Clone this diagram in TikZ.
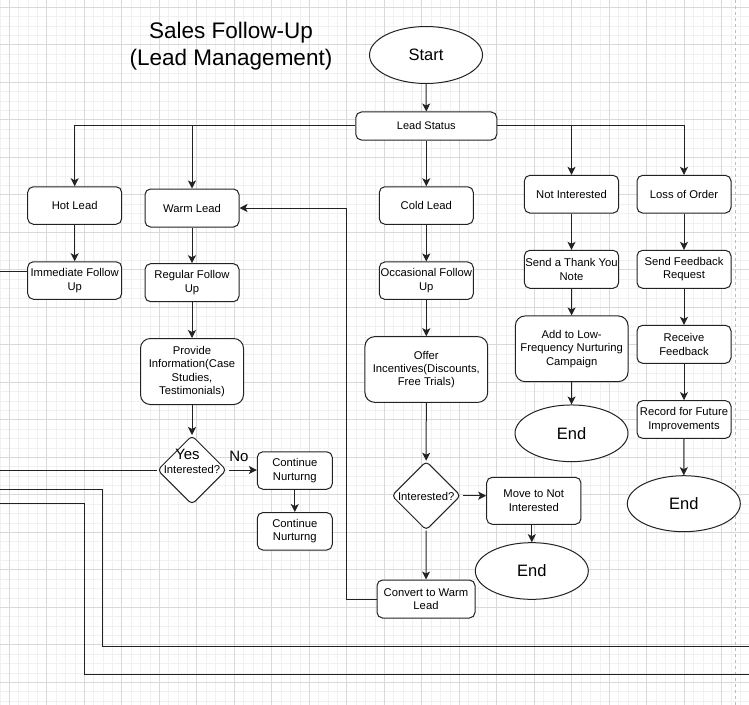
\documentclass[tikz,border=0pt]{standalone}
\usepackage{fontspec}
\setmainfont{Liberation Sans}
\usetikzlibrary{shapes.geometric,arrows.meta}
\definecolor{minorg}{HTML}{F1F1F1}
\definecolor{majorg}{HTML}{D9D9D9}
\definecolor{pageg}{HTML}{BDBDBD}
\definecolor{linec}{HTML}{222222}
\newcommand\fsn{\fontsize{11.25bp}{13.4bp}\selectfont}
\newcommand\fsb{\fontsize{16.5bp}{19bp}\selectfont}
\newcommand\fsy{\fontsize{15bp}{17bp}\selectfont}
\newcommand\fst{\fontsize{22.5bp}{27bp}\selectfont}
\begin{document}
\begin{tikzpicture}[x=1bp,y=-1bp,
  box/.style={draw=linec,fill=white,line width=1bp,rounded corners=5.6bp,rectangle,align=center,font=\fsn,inner sep=0pt,minimum width=94bp,minimum height=37.5bp},
  bigbox/.style={box,rounded corners=9.8bp},
  oval/.style={draw=linec,fill=white,line width=1bp,ellipse,inner sep=0pt,minimum width=113bp,minimum height=56.7bp,font=\fsb},
  dia/.style={draw=linec,fill=white,line width=1bp,diamond,rounded corners=4bp,inner sep=0pt,minimum width=69bp,minimum height=69bp},
  lbl/.style={font=\fsn,inner sep=0pt},
  conn/.style={draw=linec,line width=1bp},
  arr/.style={conn,-{Stealth[length=8bp,width=8bp,inset=2bp]}},
  minorl/.style={draw=minorg,line width=0.8bp},
  majorl/.style={draw=majorg,line width=1bp}]
\useasboundingbox (0,0) rectangle (749,705);
\fill[white] (0,0) rectangle (749,705);
% grid
\foreach \i in {0,...,80} {\draw[minorl] ({-0.075+9.375*\i},0) -- ({-0.075+9.375*\i},705);}
\foreach \i in {0,...,75} {\draw[minorl] (0,{7.3+9.375*\i}) -- (749,{7.3+9.375*\i});}
\foreach \i in {0,...,19} {\draw[majorl] ({9.3+37.5*\i},0) -- ({9.3+37.5*\i},705);}
\foreach \i in {0,...,18} {\draw[majorl] (0,{7.3+37.5*\i}) -- (749,{7.3+37.5*\i});}
\draw[pageg,line width=1bp,dash pattern=on 3bp off 3bp] (735.5,0) -- (735.5,705);

% title
\node[font=\fst,align=center,inner sep=0pt] (title) at (231,46) {Sales Follow-Up\\(Lead Management)};

% nodes
\node[oval,minimum height=57bp] (start) at (426,55) {Start};
\node[box,minimum width=141bp,minimum height=28bp,font=\fontsize{11bp}{13bp}\selectfont] (ls) at (426.3,126) {Lead Status};

\node[box] (hot) at (74.7,205.5) {Hot Lead};
\node[box,minimum height=38bp] (warm) at (192,208) {Warm Lead};
\node[box] (imm) at (74.7,280.5) {Immediate Follow\\Up};
\node[box,minimum height=38bp] (reg) at (192,282.7) {Regular Follow\\Up};
\node[bigbox,minimum width=103bp,minimum height=66bp] (prov) at (192,371.5) {Provide\\Information(Case\\Studies,\\Testimonials)};
\node[dia] (d1) at (192,470) {};
\node[lbl] (d1t) at (192,469) {Interested?};
\node[font=\fsy,inner sep=0pt] (yes) at (187.5,454) {Yes};
\node[font=\fsy,inner sep=0pt] (no) at (239,456) {No};
\node[box,minimum width=75bp] (cn1) at (294.8,470.5) {Continue\\Nurturng};
\node[box,minimum width=75bp] (cn2) at (294.8,531.3) {Continue\\Nurturng};

\node[box] (cold) at (426.3,205.5) {Cold Lead};
\node[box] (occ) at (426.3,280.7) {Occasional Follow\\Up};
\node[bigbox,minimum width=122.7bp,minimum height=65.7bp] (offer) at (426.3,369.5) {Offer\\Incentives(Discounts,\\Free Trials)};
\node[dia] (d2) at (426.2,495.7) {};
\node[lbl] (d2t) at (426.2,496) {Interested?};
\node[box,minimum width=94.3bp,minimum height=47bp] (mni) at (533.8,500.8) {Move to Not\\Interested};
\node[oval] (end2) at (531.8,571) {End};
\node[box,minimum width=98bp,minimum height=38bp] (conv) at (426,599) {Convert to Warm\\Lead};

\node[box,minimum width=94.3bp,minimum height=37.7bp] (notint) at (571.5,194.2) {Not Interested};
\node[box,minimum width=94.3bp,minimum height=38bp] (thank) at (571.5,269.3) {Send a Thank You\\Note};
\node[bigbox,minimum width=112.7bp,minimum height=65.7bp] (lowf) at (571.7,348.8) {Add to Low-\\Frequency Nurturing\\Campaign};
\node[oval] (end1) at (571.5,433.3) {End};

\node[box,minimum height=37.7bp] (loss) at (684,194.2) {Loss of Order};
\node[box,minimum height=38bp] (sfr) at (684,269.3) {Send Feedback\\Request};
\node[box,minimum height=38bp] (recv) at (684,344.3) {Receive\\Feedback};
\node[box,minimum height=37.7bp] (rec) at (684,419.5) {Record for Future\\Improvements};
\node[oval,minimum height=56bp] (end3) at (683.8,503.7) {End};

% free-end coordinates
\coordinate (l1) at (0,271);
\coordinate (l2) at (0,470);
\coordinate (l3a) at (0,489.3);
\coordinate (l3b) at (102.7,646);
\coordinate (l3c) at (749,646);
\coordinate (l4a) at (0,503.3);
\coordinate (l4b) at (84.3,674.3);
\coordinate (l4c) at (749,674.3);
\coordinate (bend) at (346.7,599);

% connectors
\draw[arr] (start.south) -- (ls.north);
\draw[arr] (ls.west) -| (hot.north);
\draw[arr] (ls.west) -| (warm.north);
\draw[arr] (ls.east) -| (notint.north);
\draw[arr] (ls.east) -| (loss.north);
\draw[arr] (ls.south) -- (cold.north);

\draw[arr] (hot) -- (imm);
\draw[arr] (warm) -- (reg);
\draw[arr] (reg) -- (prov);
\draw[arr] (prov) -- (d1.north);
\draw[arr] ([xshift=2bp]d1.east) -- (d1.east -| cn1.west);
\draw[arr] (cn1) -- (cn2);

\draw[arr] (cold) -- (occ);
\draw[arr] (occ) -- (offer);
\draw[arr] (offer) -- (d2.north);
\draw[arr] ([xshift=2bp]d2.east) -- (d2.east -| mni.west);
\draw[arr] (end2.north |- mni.south) -- (end2.north);
\draw[arr] (d2.south) -- (conv.north);
\draw[arr] (conv.west) -- (bend) |- (warm.east);

\draw[arr] (notint) -- (thank);
\draw[arr] (thank) -- (lowf);
\draw[arr] (lowf) -- (end1.north);
\draw[arr] (loss) -- (sfr);
\draw[arr] (sfr) -- (recv);
\draw[arr] (recv) -- (rec);
\draw[arr] (rec) -- (end3.north);

\draw[conn] (l1) -- (l1 -| imm.west);
\draw[conn] (l2) -- (d1.west);
\draw[conn] (l3a) -| (l3b) -- (l3c);
\draw[conn] (l4a) -| (l4b) -- (l4c);
\end{tikzpicture}
\end{document}
